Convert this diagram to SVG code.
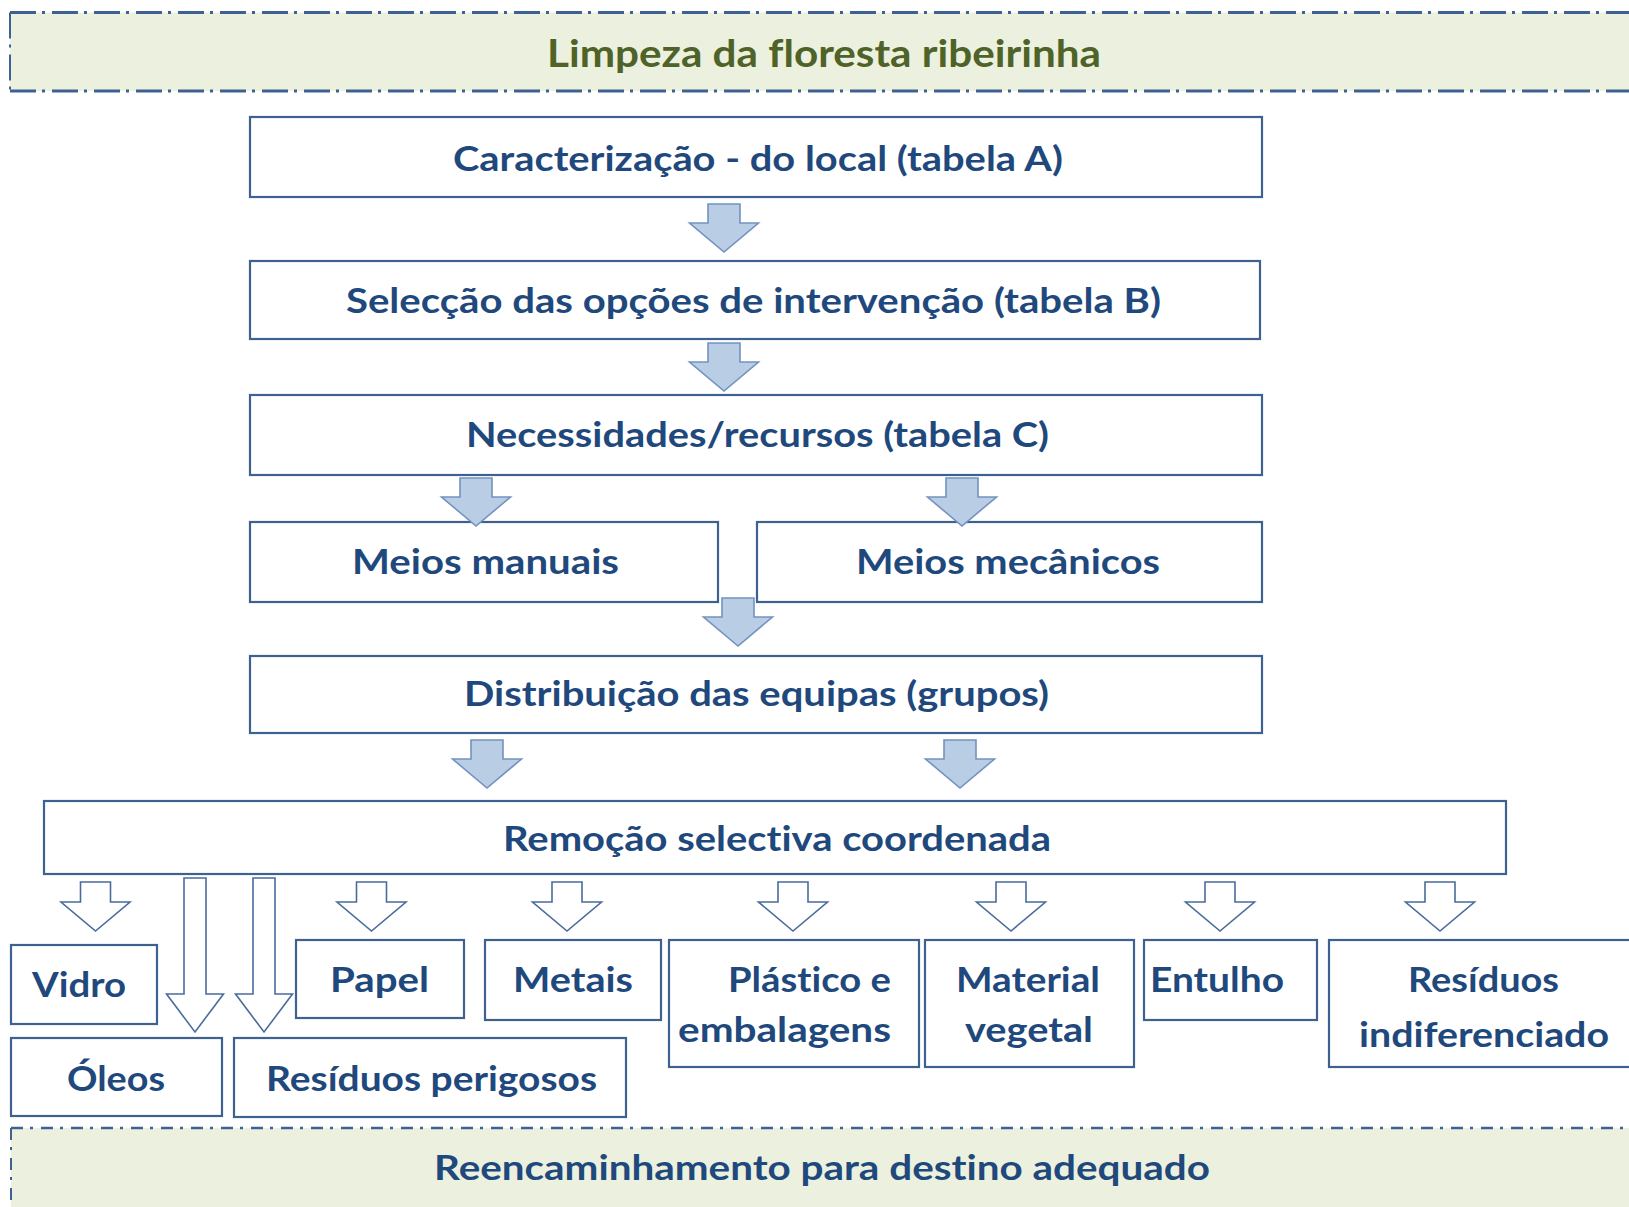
<svg xmlns="http://www.w3.org/2000/svg" xmlns:xlink="http://www.w3.org/1999/xlink" width="1629" height="1207" viewBox="0 0 1629 1207">
<defs>
<style>
.box{fill:#ffffff;stroke:#3E6290;stroke-width:2.2}
.banner{fill:#EBF1DE}
.t{font-family:Lato,"Open Sans","Liberation Sans",sans-serif;font-weight:bold;font-size:34px;fill:#1F497D;text-anchor:middle;font-variant-ligatures:none}
.farrow{fill:#B9CDE5;stroke:#7392C0;stroke-width:1.6}
.oarrow{fill:#ffffff;stroke:#4A6C9B;stroke-width:1.6}
</style>
<path id="fa" d="M-16 0 H16 V19 H34.5 L0 48 L-34.5 19 H-16 Z"/>
<path id="oa" d="M-15 0 H15 V20 H34.5 L0 49 L-34.5 20 H-15 Z"/>
<path id="la" d="M-11 0 H11 V116 H28.5 L0 154 L-28.5 116 H-11 Z"/>
</defs>
<rect width="1629" height="1207" fill="#ffffff"/>

<g id="banner-top">
<rect class="banner" x="10" y="12.5" width="1640" height="78.5"/>
<path d="M10 12.5 H1640 M10 91 H1640" fill="none" stroke="#3F6191" stroke-width="3" stroke-dasharray="26 6 3 7"/>
<path d="M10 12.5 V91" fill="none" stroke="#3F6191" stroke-width="2" stroke-dasharray="26 6 3 7"/>
<text class="t" x="824" y="67" style="font-size:38px;fill:#4F6228" textLength="554" lengthAdjust="spacingAndGlyphs">Limpeza da floresta ribeirinha</text>
</g>

<g id="n-caracterizacao">
<rect class="box" x="250" y="117" width="1012" height="80"/>
<text class="t" x="758" y="171" textLength="610" lengthAdjust="spacingAndGlyphs">Caracterização - do local (tabela A)</text>
</g>
<g id="n-seleccao">
<rect class="box" x="250" y="261" width="1010" height="78"/>
<text class="t" x="753.5" y="313" textLength="815" lengthAdjust="spacingAndGlyphs">Selecção das opções de intervenção (tabela B)</text>
</g>
<g id="n-necessidades">
<rect class="box" x="250" y="395" width="1012" height="80"/>
<text class="t" x="757.5" y="447" textLength="583" lengthAdjust="spacingAndGlyphs">Necessidades/recursos (tabela C)</text>
</g>
<g id="n-manuais">
<rect class="box" x="250" y="522" width="468" height="80"/>
<text class="t" x="485.5" y="574" textLength="267" lengthAdjust="spacingAndGlyphs">Meios manuais</text>
</g>
<g id="n-mecanicos">
<rect class="box" x="757" y="522" width="505" height="80"/>
<text class="t" x="1008" y="574" textLength="304" lengthAdjust="spacingAndGlyphs">Meios mecânicos</text>
</g>
<g id="n-distribuicao">
<rect class="box" x="250" y="656" width="1012" height="77"/>
<text class="t" x="756.5" y="706" textLength="585" lengthAdjust="spacingAndGlyphs">Distribuição das equipas (grupos)</text>
</g>
<g id="n-remocao">
<rect class="box" x="44" y="801" width="1462" height="73"/>
<text class="t" x="777" y="851" textLength="548" lengthAdjust="spacingAndGlyphs">Remoção selectiva coordenada</text>
</g>

<g id="n-vidro">
<rect class="box" x="11" y="945" width="146" height="79"/>
<text class="t" x="79" y="997" textLength="94" lengthAdjust="spacingAndGlyphs">Vidro</text>
</g>
<g id="n-papel">
<rect class="box" x="296" y="940" width="168" height="78"/>
<text class="t" x="379.5" y="992" textLength="99" lengthAdjust="spacingAndGlyphs">Papel</text>
</g>
<g id="n-metais">
<rect class="box" x="485" y="940" width="176" height="80"/>
<text class="t" x="573" y="992" textLength="120" lengthAdjust="spacingAndGlyphs">Metais</text>
</g>
<g id="n-plastico">
<rect class="box" x="669" y="940" width="250" height="127"/>
<text class="t" x="809.5" y="992" textLength="163" lengthAdjust="spacingAndGlyphs">Plástico e</text>
<text class="t" x="784.5" y="1042" textLength="213" lengthAdjust="spacingAndGlyphs">embalagens</text>
</g>
<g id="n-material">
<rect class="box" x="925" y="940" width="209" height="127"/>
<text class="t" x="1028" y="992" textLength="144" lengthAdjust="spacingAndGlyphs">Material</text>
<text class="t" x="1029" y="1042" textLength="128" lengthAdjust="spacingAndGlyphs">vegetal</text>
</g>
<g id="n-entulho">
<rect class="box" x="1144" y="940" width="173" height="80"/>
<text class="t" x="1217" y="992" textLength="134" lengthAdjust="spacingAndGlyphs">Entulho</text>
</g>
<g id="n-indiferenciado">
<rect class="box" x="1329" y="940" width="320" height="127"/>
<text class="t" x="1483.5" y="992" textLength="151" lengthAdjust="spacingAndGlyphs">Resíduos</text>
<text class="t" x="1484" y="1047" textLength="250" lengthAdjust="spacingAndGlyphs">indiferenciado</text>
</g>
<g id="n-oleos">
<rect class="box" x="11" y="1038" width="211" height="78"/>
<text class="t" x="116" y="1091" textLength="98" lengthAdjust="spacingAndGlyphs">Óleos</text>
</g>
<g id="n-perigosos">
<rect class="box" x="234" y="1038" width="392" height="79"/>
<text class="t" x="431.5" y="1091" textLength="331" lengthAdjust="spacingAndGlyphs">Resíduos perigosos</text>
</g>

<g id="banner-bottom">
<rect class="banner" x="11" y="1128" width="1640" height="100"/>
<path d="M11 1128 H1640" fill="none" stroke="#3F6191" stroke-width="2.5" stroke-dasharray="12 7 3 8"/>
<path d="M11 1128 V1207" fill="none" stroke="#3F6191" stroke-width="2" stroke-dasharray="12 7 3 8"/>
<text class="t" x="822" y="1180" textLength="776" lengthAdjust="spacingAndGlyphs">Reencaminhamento para destino adequado</text>
</g>

<g id="connectors">
<use href="#fa" class="farrow" x="724" y="204"/>
<use href="#fa" class="farrow" x="724" y="343"/>
<use href="#fa" class="farrow" x="476" y="478"/>
<use href="#fa" class="farrow" x="962" y="478"/>
<use href="#fa" class="farrow" x="738" y="598"/>
<use href="#fa" class="farrow" x="487" y="740"/>
<use href="#fa" class="farrow" x="960" y="740"/>
<use href="#oa" class="oarrow" x="95.5" y="882"/>
<use href="#oa" class="oarrow" x="371.5" y="882"/>
<use href="#oa" class="oarrow" x="567" y="882"/>
<use href="#oa" class="oarrow" x="793" y="882"/>
<use href="#oa" class="oarrow" x="1011" y="882"/>
<use href="#oa" class="oarrow" x="1220" y="882"/>
<use href="#oa" class="oarrow" x="1440" y="882"/>
<use href="#la" class="oarrow" x="195" y="878"/>
<use href="#la" class="oarrow" x="264" y="878"/>
</g>
</svg>
